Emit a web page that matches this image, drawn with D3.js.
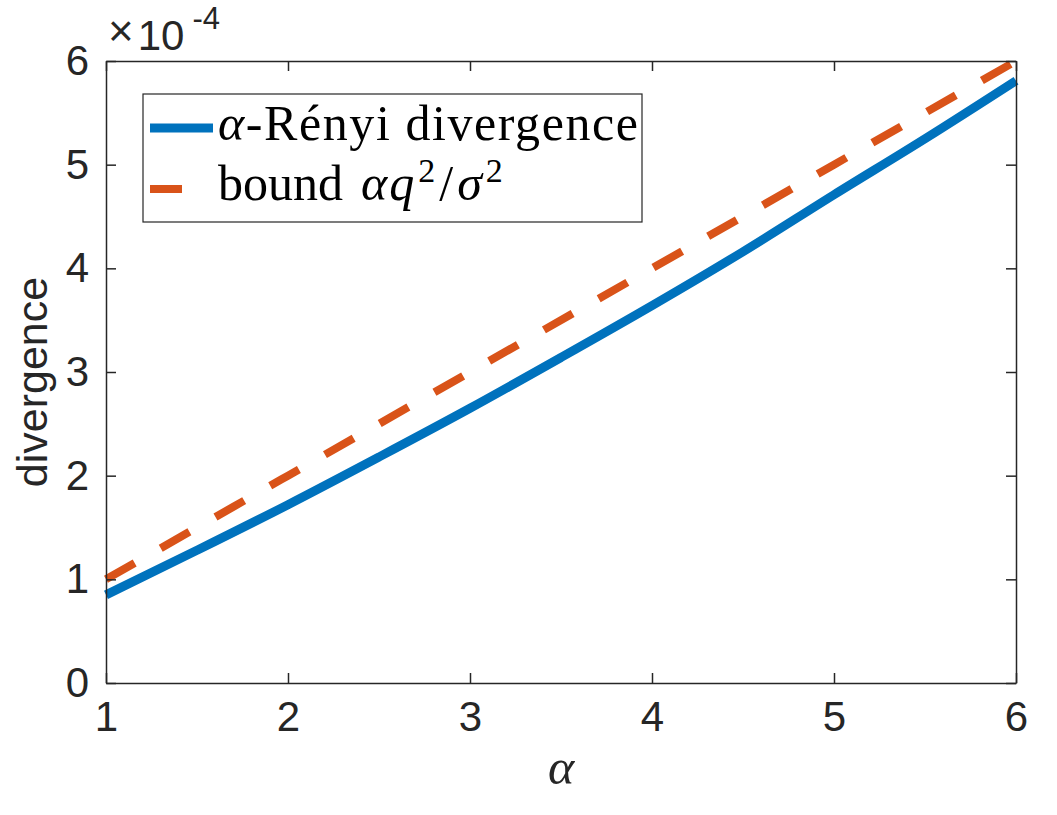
<!DOCTYPE html>
<html>
<head>
<meta charset="utf-8">
<script src="https://cdn.jsdelivr.net/npm/d3@7"></script>
<style>
  body { margin: 0; background: #fff; }
  .axis text { font-family: "Liberation Sans", Arial, sans-serif; font-size: 42px; fill: #262626; }
  .axis path, .axis line { stroke: #262626; stroke-width: 1.5px; }
</style>
</head>
<body>
<svg id="chart" width="1057" height="815"></svg>
<script>
// alpha values and divergences (in units of 1e-4)
var alphas = [1, 1.5, 2, 2.5, 3, 3.5, 4, 4.5, 5, 5.5, 6];
var renyi = [0.85, 1.28, 1.72, 2.18, 2.65, 3.14, 3.64, 4.16, 4.71, 5.25, 5.81];
var boundAlphas = [1, 2, 3, 4, 5, 6];
var bound = [1, 2, 3, 4, 5, 6];
var xTicks = [1, 2, 3, 4, 5, 6];
var yTicks = [0, 1, 2, 3, 4, 5, 6];

var svg = d3.select('#chart');
var margin = {top: 61, right: 41, bottom: 132, left: 106};
var width = 1057, height = 815;

var x = d3.scaleLinear()
    .domain([1, 6])
    .range([margin.left, width - margin.right]);

var y = d3.scaleLinear()
    .domain([0, 6])
    .range([height - margin.bottom, margin.top]);

var blue = '#0072bd', orange = '#d95319';
var fmt = d3.format('d');

var line = d3.line()
    .x(function(d) { return x(d[0]); })
    .y(function(d) { return y(d[1]); })
    .curve(d3.curveMonotoneX);

// bound line (dashed)
svg.append('path')
    .datum(d3.zip(boundAlphas, bound))
    .attr('d', line)
    .attr('fill', 'none')
    .attr('stroke', orange)
    .attr('stroke-width', 8)
    .attr('stroke-dasharray', '33,30');

// renyi curve
svg.append('path')
    .datum(d3.zip(alphas, renyi))
    .attr('d', line)
    .attr('fill', 'none')
    .attr('stroke', blue)
    .attr('stroke-width', 9);

// axes (ticks inward, box on)
svg.append('g')
    .attr('class', 'axis')
    .attr('transform', 'translate(0,' + (height - margin.bottom) + ')')
    .call(d3.axisBottom(x).tickValues(xTicks).tickFormat(fmt).tickSizeInner(-10).tickSizeOuter(0).tickPadding(18))
    .selectAll('text').attr('dy', '0.71em');

svg.append('g')
    .attr('class', 'axis')
    .attr('transform', 'translate(0,' + margin.top + ')')
    .call(d3.axisTop(x).tickValues(xTicks).tickSizeInner(-10).tickSizeOuter(0).tickFormat(''));

svg.append('g')
    .attr('class', 'axis')
    .attr('transform', 'translate(' + margin.left + ',0)')
    .call(d3.axisLeft(y).tickValues(yTicks).tickFormat(fmt).tickSizeInner(-10).tickSizeOuter(0).tickPadding(17));

svg.append('g')
    .attr('class', 'axis')
    .attr('transform', 'translate(' + (width - margin.right) + ',0)')
    .call(d3.axisRight(y).tickValues(yTicks).tickSizeInner(-10).tickSizeOuter(0).tickFormat(''));

// exponent label
var expo = svg.append('text')
    .attr('x', 108)
    .attr('y', 50)
    .style('font-family', '"Liberation Sans", Arial, sans-serif')
    .style('font-size', '42px')
    .attr('fill', '#262626');
expo.append('tspan').attr('dy', -4).style('font-size', '44px').style('font-weight', 300).text('×');
expo.append('tspan').attr('dx', 4).attr('dy', 4).text('10');
expo.append('tspan').attr('dx', 8).attr('dy', -21).style('font-size', '31px').text('-4');

// axis labels
svg.append('text')
    .attr('transform', 'translate(47,' + ((margin.top + height - margin.bottom) / 2 + 10) + ') rotate(-90)')
    .attr('text-anchor', 'middle')
    .style('font-family', '"Liberation Sans", Arial, sans-serif')
    .style('font-size', '43px')
    .attr('fill', '#262626')
    .text('divergence');

svg.append('text')
    .attr('x', (x.range()[0] + x.range()[1]) / 2)
    .attr('y', 784)
    .attr('text-anchor', 'middle')
    .style('font-family', '"Liberation Serif", "Times New Roman", serif')
    .style('font-style', 'italic')
    .style('font-size', '50px')
    .attr('fill', '#262626')
    .text('α');

// legend
var legend = svg.append('g');
legend.append('rect')
    .attr('x', 143).attr('y', 94)
    .attr('width', 499).attr('height', 128)
    .attr('fill', '#fff')
    .attr('stroke', '#262626')
    .attr('stroke-width', 1.2);

legend.append('line')
    .attr('x1', 150).attr('x2', 213)
    .attr('y1', 128).attr('y2', 128)
    .attr('stroke', blue).attr('stroke-width', 9);

legend.append('line')
    .attr('x1', 150).attr('x2', 182)
    .attr('y1', 189).attr('y2', 189)
    .attr('stroke', orange).attr('stroke-width', 8);

var serif = '"Liberation Serif", "Times New Roman", serif';

var t1 = legend.append('text')
    .attr('x', 218).attr('y', 140)
    .attr('textLength', 420)
    .attr('lengthAdjust', 'spacing')
    .style('font-family', serif)
    .style('font-size', '50px')
    .attr('fill', '#000');
t1.append('tspan').style('font-style', 'italic').text('α');
t1.append('tspan').text('-Rényi divergence');

var t2 = legend.append('text')
    .attr('x', 218).attr('y', 200)
    .style('font-family', serif)
    .style('font-size', '50px')
    .attr('fill', '#000');
t2.append('tspan').text('bound');
t2.append('tspan').attr('dx', 18).style('font-style', 'italic').text('α');
t2.append('tspan').attr('dx', 2).style('font-style', 'italic').text('q');
t2.append('tspan').attr('dx', 4).attr('dy', -18).style('font-size', '34px').text('2');
t2.append('tspan').attr('dx', 4).attr('dy', 18).text('/');
t2.append('tspan').attr('dx', 4).style('font-style', 'italic').text('σ');
t2.append('tspan').attr('dx', 4).attr('dy', -18).style('font-size', '34px').text('2');
</script>
</body>
</html>
